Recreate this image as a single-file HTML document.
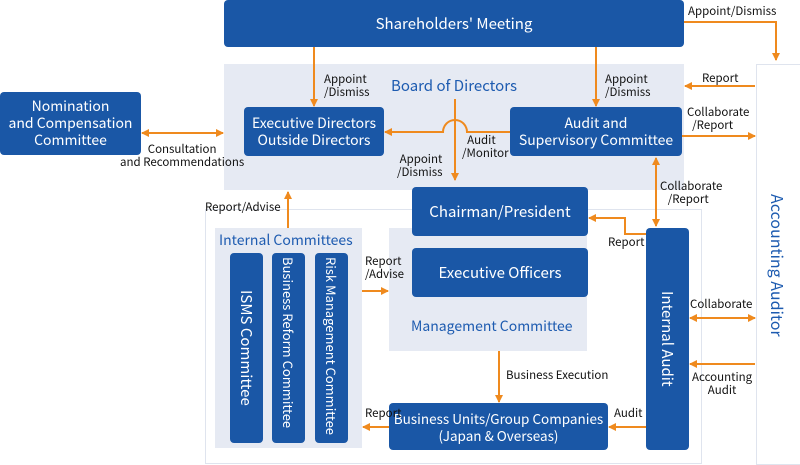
<!DOCTYPE html>
<html><head><meta charset="utf-8"><style>
body{margin:0;width:800px;height:465px;position:relative;background:#fff;font-family:"Noto Sans CJK JP","Liberation Sans",sans-serif;overflow:hidden}
.b{position:absolute;background:#1a57a6;color:#fff;border-radius:4px;display:flex;align-items:center;justify-content:center;text-align:center;font-size:14px;line-height:17px}
.bg{position:absolute;background:#e6eaf3}
.t{position:absolute;font-size:11.5px;line-height:13px;color:#111;white-space:nowrap}
.bl{position:absolute;color:#1d5bb0;font-size:15px;line-height:18px;white-space:nowrap}
.v{writing-mode:vertical-rl}
svg{position:absolute;left:0;top:0}
</style></head><body>
<div style="position:absolute;left:205px;top:209px;width:495px;height:253px;border:1px solid #dfe4ee"></div>
<div style="position:absolute;left:756px;top:64px;width:43px;height:399px;border:1px solid #dfe4ee;background:#fff"></div>
<div class="bg" style="left:224px;top:64px;width:460px;height:126px"></div>
<div class="bg" style="left:215px;top:228px;width:147px;height:220px"></div>
<div class="bg" style="left:389px;top:228px;width:198px;height:123px"></div>
<div class="b" style="left:224px;top:0;width:460px;height:47px;font-size:15px">Shareholders' Meeting</div>
<div class="b" style="left:0;top:92px;width:141px;height:63px">Nomination<br>and Compensation<br>Committee</div>
<div class="b" style="left:244px;top:107px;width:140px;height:49px">Executive Directors<br>Outside Directors</div>
<div class="b" style="left:510px;top:107px;width:172px;height:49px">Audit and<br>Supervisory Committee</div>
<div class="b" style="left:412px;top:187px;width:176px;height:49px;font-size:15px">Chairman/President</div>
<div class="b" style="left:412px;top:248px;width:176px;height:49px;font-size:15px">Executive Officers</div>
<div class="b" style="left:389px;top:403px;width:219px;height:47px;font-size:13.5px">Business Units/Group Companies<br>(Japan &amp; Overseas)</div>
<div class="b v" style="left:230px;top:253px;width:33px;height:190px;font-size:15px">ISMS Committee</div>
<div class="b v" style="left:272px;top:253px;width:33px;height:190px;font-size:13px;justify-content:flex-start;padding-top:4px;box-sizing:border-box">Business Reform Committee</div>
<div class="b v" style="left:315px;top:253px;width:33px;height:190px;font-size:13px;justify-content:flex-start;padding-top:4px;box-sizing:border-box">Risk Management Committee</div>
<div class="b v" style="left:646px;top:228px;width:43px;height:222px;font-size:15px">Internal Audit</div>
<div class="bl" style="left:391px;top:77px">Board of Directors</div>
<div class="bl" style="left:219px;top:231px;font-size:14px">Internal Committees</div>
<div class="bl" style="left:411px;top:317px;font-size:14px">Management Committee</div>
<div class="bl v" style="left:769px;top:194px;font-size:16px">Accounting Auditor</div>
<svg width="800" height="465"><defs><marker id="a" markerWidth="8" markerHeight="8" refX="7" refY="4" orient="auto-start-reverse" markerUnits="userSpaceOnUse"><path d="M0,0L8,4L0,8z" fill="#ef8a1e"/></marker></defs>
<g stroke="#ef8a1e" stroke-width="2" fill="none">
<path d="M314,47V106" marker-end="url(#a)"/>
<path d="M596,47V106" marker-end="url(#a)"/>
<path d="M684,22H776V60" marker-end="url(#a)"/>
<path d="M755,86H685" marker-end="url(#a)"/>
<path d="M682,136H755" marker-end="url(#a)"/>
<path d="M510,132H467A12,12 0 0 0 443,132H385" marker-end="url(#a)"/>
<path d="M455,99V180" marker-end="url(#a)"/>
<path d="M142,133H223" marker-start="url(#a)" marker-end="url(#a)"/>
<path d="M656,158V226" marker-start="url(#a)" marker-end="url(#a)"/>
<path d="M646,234H625V218H589" marker-end="url(#a)"/>
<path d="M288,228V192" marker-end="url(#a)"/>
<path d="M362,291H388" marker-end="url(#a)"/>
<path d="M499,351V402" marker-end="url(#a)"/>
<path d="M389,427H363" marker-end="url(#a)"/>
<path d="M646,427H609" marker-end="url(#a)"/>
<path d="M690,318H755" marker-start="url(#a)" marker-end="url(#a)"/>
<path d="M755,364H690" marker-end="url(#a)"/>
</g></svg>
<div class="t" style="left:324px;top:73px">Appoint<br>/Dismiss</div>
<div class="t" style="left:605px;top:73px">Appoint<br>/Dismiss</div>
<div class="t" style="left:688px;top:5px">Appoint/Dismiss</div>
<div class="t" style="left:702px;top:72px">Report</div>
<div class="t" style="left:687px;top:106px">Collaborate<br>&nbsp;&nbsp;/Report</div>
<div class="t" style="left:462px;top:134px">&nbsp;&nbsp;Audit<br>/Monitor</div>
<div class="t" style="left:397px;top:153px">&nbsp;Appoint<br>/Dismiss</div>
<div class="t" style="left:120px;top:143px;text-align:center">Consultation<br>and Recommendations</div>
<div class="t" style="left:660px;top:180px">Collaborate<br>&nbsp;&nbsp;&nbsp;/Report</div>
<div class="t" style="left:608px;top:236px">Report</div>
<div class="t" style="left:205px;top:201px">Report/Advise</div>
<div class="t" style="left:365px;top:255px">Report<br>/Advise</div>
<div class="t" style="left:506px;top:369px">Business Execution</div>
<div class="t" style="left:365px;top:407px">Report</div>
<div class="t" style="left:614px;top:407px">Audit</div>
<div class="t" style="left:690px;top:298px">Collaborate</div>
<div class="t" style="left:692px;top:371px;text-align:center">Accounting<br>Audit</div>
</body></html>
